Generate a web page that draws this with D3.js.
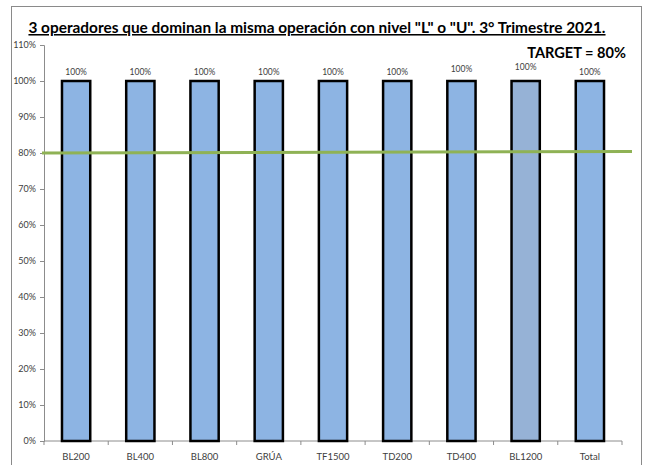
<!DOCTYPE html>
<html>
<head>
<meta charset="utf-8">
<script src="https://cdn.jsdelivr.net/npm/d3@7"></script>
<style>
  html, body { margin: 0; padding: 0; background: #fff; }
  svg { display: block; }
</style>
</head>
<body>
<svg id="chart" width="645" height="465"></svg>
<script>
// Chart data
const categories = ["BL200", "BL400", "BL800", "GRÚA", "TF1500", "TD200", "TD400", "BL1200", "Total"];
const values = [1.00, 1.00, 1.00, 1.00, 1.00, 1.00, 1.00, 1.00, 1.00];
const target = 0.80;
const yTicks = [0, 0.1, 0.2, 0.3, 0.4, 0.5, 0.6, 0.7, 0.8, 0.9, 1.0, 1.1];
const titleText = "3 operadores que dominan la misma operación con nivel \"L\" o \"U\". 3° Trimestre 2021.";
const targetText = "TARGET = 80%";

const svg = d3.select("#chart");
const W = 645, H = 465;
const margin = { left: 44, right: 23, top: 45, bottom: 24 };
const font = "Lato, 'Open Sans', sans-serif";

// outer frame
svg.append("rect")
  .attr("x", 11.5).attr("y", 6.5)
  .attr("width", 630).attr("height", 470)
  .attr("fill", "#fff").attr("stroke", "#8a8a8a").attr("stroke-width", 1);

const x = d3.scaleBand()
  .domain(categories)
  .range([margin.left, W - margin.right])
  .paddingInner(0.56).paddingOuter(0.28);

const y = d3.scaleLinear()
  .domain([0, 1.1])
  .range([H - margin.bottom, margin.top]);

// y axis
const yAxis = svg.append("g")
  .attr("transform", `translate(${margin.left},0)`)
  .call(d3.axisLeft(y).tickValues(yTicks).tickFormat(d3.format(".0%")).tickSize(4).tickPadding(4));
yAxis.select(".domain").attr("stroke", "#8c8c8c");
yAxis.selectAll(".tick line").attr("stroke", "#8c8c8c");
yAxis.selectAll("text").attr("font-family", font).attr("font-size", 9).attr("fill", "#404040");

// x axis with ticks between categories
const xAxisG = svg.append("g").attr("transform", `translate(0,${y(0)})`);
xAxisG.append("line")
  .attr("x1", margin.left).attr("x2", W - margin.right)
  .attr("stroke", "#8c8c8c");
const bounds = d3.range(categories.length + 1).map(i => margin.left + i * (W - margin.left - margin.right) / categories.length);
xAxisG.selectAll(".sep").data(bounds).join("line")
  .attr("x1", d => d).attr("x2", d => d)
  .attr("y1", 0).attr("y2", 4)
  .attr("stroke", "#8c8c8c");
xAxisG.selectAll(".lbl").data(categories).join("text")
  .attr("x", d => x(d) + x.bandwidth() / 2)
  .attr("y", 19)
  .attr("text-anchor", "middle")
  .attr("font-family", font).attr("font-size", 9.5).attr("fill", "#404040")
  .text(d => d);

// bars
const barFill = d => d === "BL1200" ? "#96b2d6" : "#8db4e3";
svg.selectAll(".bar").data(categories).join("rect")
  .attr("x", d => x(d))
  .attr("y", (d, i) => y(values[i]))
  .attr("width", x.bandwidth())
  .attr("height", (d, i) => y(0) - y(values[i]))
  .attr("fill", barFill)
  .attr("stroke", "#000").attr("stroke-width", 2.5);

// value labels (a couple sit slightly higher)
svg.selectAll(".val").data(categories).join("text")
  .attr("x", d => x(d) + x.bandwidth() / 2)
  .attr("y", (d, i) => y(values[i]) - 6 - (d === "TD400" ? 3 : d === "BL1200" ? 5 : 0))
  .attr("text-anchor", "middle")
  .attr("font-family", font).attr("font-size", 8.5).attr("fill", "#404040")
  .text((d, i) => d3.format(".0%")(values[i]));

// target line
svg.append("line")
  .attr("x1", margin.left - 2).attr("x2", 632)
  .attr("y1", y(target)).attr("y2", y(target) - 1.5)
  .attr("stroke", "#8fb255").attr("stroke-width", 3);

// title
svg.append("text")
  .attr("x", 317).attr("y", 33)
  .attr("text-anchor", "middle")
  .attr("font-family", font).attr("font-weight", "bold").attr("font-size", 15.4)
  .attr("text-decoration", "underline")
  .attr("fill", "#000")
  .text(titleText);

svg.append("text")
  .attr("x", 626).attr("y", 58)
  .attr("text-anchor", "end")
  .attr("font-family", font).attr("font-weight", "bold").attr("font-size", 14.6)
  .attr("fill", "#000")
  .text(targetText);
</script>
</body>
</html>
